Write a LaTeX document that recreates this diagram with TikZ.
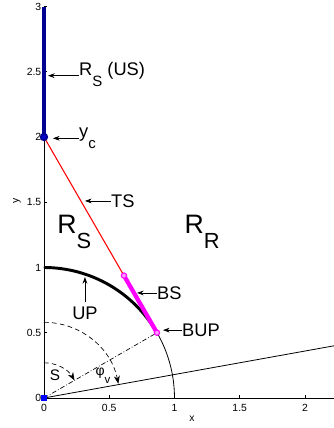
\documentclass[tikz,border=0pt]{standalone}
\usepackage{fontspec}
\setmainfont{Liberation Sans}
\usepackage{graphicx}
\usetikzlibrary{arrows.meta,positioning,calc}
\definecolor{plotnavy}{RGB}{0,0,145}
\definecolor{plotblue}{RGB}{0,0,255}
\definecolor{plotred}{RGB}{255,0,0}
\definecolor{plotmagenta}{RGB}{255,0,255}
\newcommand{\lowsub}[1]{\raisebox{-0.58em}{\scalebox{0.82}{#1}}}

\begin{document}
\begin{tikzpicture}[x=3.44cm,y=3.44cm,>=Stealth, every node/.style={inner sep=0pt}]
\tikzstyle{ticklbl}=[font=\fontsize{7.8}{9}\selectfont]
\tikzstyle{lbl}=[font=\fontsize{13.7}{16}\selectfont]
\tikzstyle{biglbl}=[font=\fontsize{20}{24}\selectfont]
\tikzstyle{anglbl}=[font=\fontsize{11.5}{14}\selectfont]
\tikzstyle{txtarrow}=[-{Stealth[length=5pt,width=3.6pt]}, line width=0.6pt]
\tikzstyle{angarc}=[dash pattern=on 3.5pt off 2.5pt, line width=0.5pt, -{Stealth[length=6pt,width=4.5pt]}]
\tikzstyle{dashdot}=[dash pattern=on 3.5pt off 1.5pt on 0.6pt off 1.5pt, line width=0.5pt]
\useasboundingbox (-0.337,-0.23) rectangle (2.222,3.05);
% key points
\coordinate (O) at (0,0);
\coordinate (C) at (0,2);
\coordinate (ytop) at (0,3);
\coordinate (xend) at (2.222,0);
\coordinate (bstop) at (0.613,0.938);
\coordinate (bupp) at (0.866,0.5);
\coordinate (rayend) at (10.2:2.26);
% circle and angles
\draw[line width=0.6pt] (1,0) arc[start angle=0, end angle=90, radius=1];
\draw[angarc] (0,0.58) arc[start angle=90, end angle=10.8, radius=0.58];
\draw[angarc] (0,0.27) arc[start angle=90, end angle=30, radius=0.27];
\draw[dashdot] (O) -- (bupp);
\draw[line width=0.6pt] (O) -- (rayend);
% axes
\draw[line width=0.6pt] (O) -- (xend);
\draw[line width=0.6pt] (O) -- (ytop);
\foreach \v [count=\i] in {0.5,1,1.5,2}
  \draw[line width=0.5pt] (\v,0) -- (\v,0.023);
\foreach \v [count=\i] in {0.5,1,1.5,2,2.5,3}
  \draw[line width=0.5pt] (0,\v) -- (0.023,\v);
\foreach \v [count=\i] in {0,0.5,1,1.5,2}
  \node[ticklbl, anchor=north] (xtick\i) at (\v,-0.046) {\v};
\foreach \v [count=\i] in {0,0.5,1,1.5,2,2.5,3}
  \node[ticklbl, anchor=east] (ytick\i) at (-0.019,\v) {\v};
\node[ticklbl] (xlab) at (1.134,-0.161) {x};
\node[ticklbl, rotate=90] (ylab) at (-0.207,1.51) {y};
% curves
\draw[line width=2.2pt] (0,1) arc[start angle=90, end angle=30, radius=1];
\draw[plotred, line width=0.8pt] (C) -- (bstop);
\draw[plotmagenta, line width=3.2pt] (bstop) -- (bupp);
\draw[plotnavy, line width=3pt] (C) -- (ytop);
% markers
\node[circle, draw=plotnavy, line width=1.2pt, fill=plotblue!55!plotnavy, minimum size=5pt] (yc) at (C) {};
\node[fill=plotblue, minimum size=4.5pt] (orig) at (O) {};
\node[circle, draw=plotmagenta, fill=plotmagenta!40!white, line width=0.8pt, minimum size=4pt] (bsend) at (bstop) {};
\node[circle, draw=plotmagenta, fill=plotmagenta!40!white, line width=0.8pt, minimum size=4pt] (bup) at (bupp) {};
% region labels
\node[biglbl, anchor=base west] (regS) at (0.10,1.262) {R\lowsub{S}};
\node[biglbl, anchor=base west] (regR) at (1.075,1.264) {R\lowsub{R}};
\node[anglbl] (angS) at (0.085,0.172) {S};
\node[font=\fontsize{10.5}{12}\selectfont] (angPhi) at (0.452,0.168) {φ\lowsub{v}};
% text arrows
\coordinate (tipUS) at (0.031,2.47);
\coordinate (tipYc) at (0.069,1.99);
\coordinate (tipTS) at (0.314,1.51);
\coordinate (tipBS) at (0.713,0.805);
\coordinate (tipBUP) at (0.912,0.52);
\coordinate (tipUP) at (0.314,0.927);
\node[lbl, anchor=base west] (lblUS) at (0.268,2.47) {R\lowsub{S} (US)};
\node[lbl, anchor=west] (lblYc) at (0.268,1.99) {y\lowsub{c}};
\node[lbl, anchor=west] (lblTS) at (0.513,1.51) {TS};
\node[lbl, anchor=west] (lblBS) at (0.866,0.805) {BS};
\node[lbl, anchor=west] (lblBUP) at (1.057,0.52) {BUP};
\node[lbl, anchor=north, inner ysep=3.7pt] (lblUP) at (0.314,0.736) {UP};
\draw[txtarrow] (lblUS.base west) -- (tipUS);
\draw[txtarrow] (lblYc.west) -- (tipYc);
\draw[txtarrow] (lblTS.west) -- (tipTS);
\draw[txtarrow] (lblBS.west) -- (tipBS);
\draw[txtarrow] (lblBUP.west) -- (tipBUP);
\draw[txtarrow] (lblUP.north) -- (tipUP);
\end{tikzpicture}
\end{document}
